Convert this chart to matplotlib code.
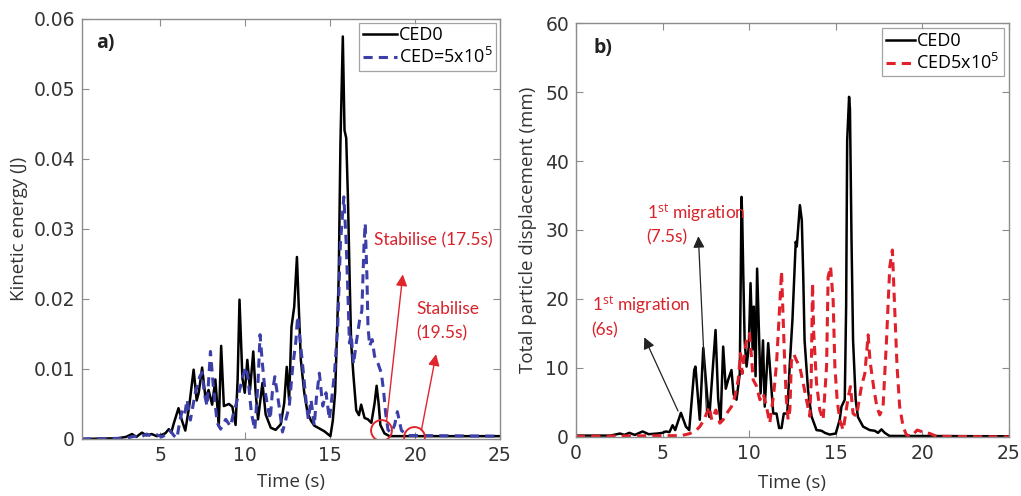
import matplotlib
matplotlib.use("Agg")
import matplotlib.pyplot as plt

plt.rcParams['font.family'] = ['Open Sans', 'DejaVu Sans']
plt.rcParams['mathtext.fontset'] = 'custom'
plt.rcParams['mathtext.rm'] = 'Open Sans'
plt.rcParams['mathtext.it'] = 'Open Sans'

# (a) kinetic energy, CED0
t_ke_ced0 = [0.4, 2.5, 3.0, 3.34, 3.6, 3.93, 4.2, 4.5, 4.8, 5.1, 5.3, 5.51, 5.65, 5.8,
             6.08, 6.3, 6.48, 6.7, 6.97, 7.15, 7.27, 7.47, 7.67, 7.85, 8.06, 8.25, 8.45,
             8.59, 8.75, 9.05, 9.25, 9.44, 9.56, 9.67, 9.84, 9.98, 10.13, 10.29, 10.48,
             10.62, 10.76, 11.02, 11.21, 11.51, 11.8, 12.1, 12.3, 12.45, 12.59, 12.73,
             12.89, 13.05, 13.15, 13.28, 13.48, 13.68, 13.88, 14.07, 14.37, 14.66, 15.02,
             15.16, 15.3, 15.39, 15.51, 15.61, 15.75, 15.85, 15.95, 16.05, 16.15, 16.24,
             16.38, 16.54, 16.7, 16.83, 17.03, 17.23, 17.43, 17.62, 17.74, 17.86, 17.96,
             18.2, 18.5, 25.0]
ke_ced0 = [0.0, 0.0001, 0.0003, 0.0007, 0.0003, 0.0009, 0.0005, 0.0007, 0.0004, 0.0006,
           0.0008, 0.0014, 0.0009, 0.0022, 0.0044, 0.0025, 0.0012, 0.0045, 0.0099, 0.0055,
           0.0066, 0.0102, 0.0058, 0.0070, 0.0049, 0.0085, 0.0018, 0.0133, 0.0047, 0.0050,
           0.0046, 0.0020, 0.0085, 0.0199, 0.0087, 0.0066, 0.0113, 0.0070, 0.0125, 0.0066,
           0.0028, 0.0080, 0.0035, 0.0016, 0.0013, 0.0021, 0.0051, 0.0103, 0.0056, 0.0160,
           0.0189, 0.0260, 0.0194, 0.0113, 0.0066, 0.0037, 0.0026, 0.0019, 0.0015, 0.0011,
           0.0004, 0.0026, 0.0067, 0.0137, 0.0232, 0.0422, 0.0575, 0.0441, 0.0430, 0.0346,
           0.0232, 0.0137, 0.0089, 0.0041, 0.0034, 0.0049, 0.0030, 0.0028, 0.0023, 0.0051,
           0.0076, 0.0050, 0.0020, 0.0008, 0.0004, 0.0004]

# (a) kinetic energy, CED = 5x10^5
t_ke_ced5 = [0.4, 3.0, 3.5, 3.8, 4.2, 4.5, 4.8, 5.1, 5.4, 5.6, 5.8, 5.99, 6.15, 6.3, 6.45,
             6.58, 6.78, 7.07, 7.33, 7.47, 7.6, 7.76, 7.96, 8.16, 8.36, 8.56, 8.86, 9.14,
             9.3, 9.44, 9.64, 9.84, 10.03, 10.17, 10.37, 10.57, 10.76, 10.88, 11.02, 11.16,
             11.32, 11.48, 11.6, 11.75, 12.0, 12.2, 12.4, 12.6, 12.8, 12.99, 13.09, 13.2,
             13.38, 13.58, 13.72, 13.88, 14.07, 14.2, 14.37, 14.57, 14.76, 14.96, 15.16,
             15.26, 15.45, 15.61, 15.81, 15.95, 16.05, 16.14, 16.24, 16.38, 16.54, 16.74,
             16.87, 17.0, 17.07, 17.17, 17.23, 17.33, 17.48, 17.62, 17.82, 18.02, 18.16,
             18.27, 18.41, 18.6, 18.8, 18.96, 19.2, 19.6, 25.0]
ke_ced5 = [0.0, 0.0001, 0.0004, 0.0002, 0.0007, 0.0004, 0.0006, 0.0003, 0.0007, 0.0012,
           0.0005, 0.0001, 0.0025, 0.0041, 0.0035, 0.0056, 0.0027, 0.0066, 0.0089, 0.0095,
           0.0065, 0.0047, 0.0125, 0.0066, 0.0023, 0.0014, 0.0028, 0.0018, 0.0035, 0.0047,
           0.0066, 0.0087, 0.0103, 0.0087, 0.0037, 0.0013, 0.0081, 0.0149, 0.0107, 0.0071,
           0.0047, 0.0028, 0.0066, 0.0089, 0.0047, 0.0010, 0.0028, 0.0047, 0.0103, 0.0140,
           0.0175, 0.0150, 0.0107, 0.0056, 0.0028, 0.0056, 0.0019, 0.0060, 0.0094, 0.0047,
           0.0066, 0.0028, 0.0071, 0.0094, 0.0160, 0.0280, 0.0346, 0.0280, 0.0208, 0.0137,
           0.0150, 0.0107, 0.0137, 0.0170, 0.0183, 0.0279, 0.0308, 0.0232, 0.0161, 0.0133,
           0.0142, 0.0118, 0.0108, 0.0094, 0.0066, 0.0037, 0.0013, 0.0009, 0.0020, 0.0039,
           0.0012, 0.0005, 0.0004]

# (b) total particle displacement, CED0
t_disp_ced0 = [0.0, 2.0, 2.54, 2.8, 3.08, 3.4, 3.85, 4.2, 4.71, 5.0, 5.19, 5.4, 5.58, 5.73,
               6.06, 6.35, 6.54, 6.83, 6.9, 7.15, 7.35, 7.58, 7.7, 8.06, 8.21, 8.35, 8.5,
               8.65, 8.79, 8.98, 9.1, 9.27, 9.46, 9.56, 9.6, 9.66, 9.74, 9.85, 9.98, 10.08,
               10.2, 10.27, 10.37, 10.46, 10.58, 10.66, 10.8, 10.9, 11.1, 11.24, 11.39,
               11.58, 11.73, 11.87, 12.0, 12.2, 12.35, 12.5, 12.69, 12.75, 12.93, 13.04,
               13.12, 13.2, 13.4, 13.6, 13.89, 14.18, 14.37, 14.65, 15.0, 15.23, 15.33,
               15.52, 15.6, 15.66, 15.77, 15.82, 15.91, 16.0, 16.15, 16.28,
               16.58, 16.96, 17.25, 17.44, 17.64, 17.83, 18.1, 25.0]
disp_ced0 = [0.2, 0.2, 0.5, 0.3, 0.6, 0.3, 0.8, 0.4, 0.5, 0.6, 0.8, 0.7, 1.7, 1.0, 3.5,
             1.5, 1.0, 9.7, 10.2, 2.5, 12.9, 5.8, 2.9, 15.5, 5.6, 2.2, 13.1, 7.0, 8.3, 9.7,
             6.2, 5.4, 9.2, 34.8, 31.9, 23.7, 14.0, 10.2, 13.1, 22.3, 12.7, 18.9, 8.8, 24.4,
             14.0, 6.3, 14.0, 4.4, 13.6, 8.7, 3.4, 3.4, 1.3, 1.3, 3.4, 3.4, 10.7, 17.0, 28.3,
             27.6, 33.6, 31.4, 23.7, 14.0, 6.8, 3.0, 1.0, 0.9, 0.6, 0.35, 0.5, 2.5, 4.4, 5.4,
             19.0, 43.0, 49.3, 47.5, 28.6, 14.0, 5.4, 2.9, 1.5, 1.0, 0.9, 0.6,
             1.1, 0.6, 0.15, 0.1]

# (b) total particle displacement, CED5x10^5
t_disp_ced5 = [0.0, 6.1, 6.58, 6.96, 7.15, 7.4, 7.69, 7.84, 8.08, 8.31, 8.5, 8.7, 8.98,
               9.18, 9.37, 9.5, 9.6, 9.75, 9.85, 10.02, 10.12, 10.23, 10.42, 10.62, 10.81,
               11.0, 11.19, 11.42, 11.58, 11.73, 11.87, 11.96, 12.06, 12.15, 12.25, 12.35,
               12.44, 12.58, 12.73, 12.92, 13.12, 13.31, 13.5, 13.58, 13.66, 13.73, 13.89,
               14.08, 14.27, 14.47, 14.56, 14.7, 14.85, 14.95, 15.08, 15.23, 15.43, 15.72,
               15.85, 16.0, 16.2, 16.48, 16.68, 16.87, 16.98, 17.2, 17.38, 17.54, 17.73,
               17.93, 18.12, 18.27, 18.4, 18.54, 18.69, 18.89, 19.08, 19.37, 19.7, 20.05,
               20.43, 20.82, 25.0]
disp_ced5 = [0.1, 0.2, 0.5, 1.0, 1.5, 2.5, 4.4, 2.5, 3.9, 2.0, 2.5, 3.4, 4.4, 5.9, 8.3,
             12.1, 9.2, 12.6, 14.0, 15.0, 12.1, 8.3, 7.4, 5.4, 6.3, 4.4, 2.0, 6.3, 10.6,
             17.4, 24.0, 17.4, 10.2, 5.4, 2.5, 3.9, 11.0, 12.0, 11.1, 10.2, 7.8, 5.4, 3.0,
             8.0, 22.3, 15.0, 7.8, 3.9, 2.5, 10.2, 23.2, 24.7, 19.8, 10.2, 5.4, 2.5, 1.0,
             5.8, 7.3, 3.4, 3.0, 7.3, 9.2, 14.8, 11.0, 7.0, 4.3, 3.2, 4.3, 14.0, 24.7, 27.1,
             18.8, 10.2, 4.4, 1.5, 0.3, 0.1, 1.0, 0.7, 0.5, 0.1, 0.0]

ANNOT_RED = '#d8232b'
AX_GRAY = '#8c8c8c'
TXT_GRAY = '#333333'
NOTE_FONT = ['Lato', 'DejaVu Sans']


def style_axes(ax):
    for s in ax.spines.values():
        s.set_color(AX_GRAY)
        s.set_linewidth(1.0)
    ax.tick_params(direction='in', length=5, width=0.8, color=AX_GRAY,
                   top=True, right=True, labelsize=13.5, labelcolor=TXT_GRAY, pad=5)
    for lab in ax.get_xticklabels() + ax.get_yticklabels():
        lab.set_fontfamily('DejaVu Sans')


fig = plt.figure(figsize=(10.21, 4.96), dpi=100)

# ---- panel a) ----
ax1 = fig.add_axes([0.0803, 0.115, 0.4094, 0.8467])
ax1.plot(t_ke_ced0, ke_ced0, color='black', lw=1.8, label='CED0')
ax1.plot(t_ke_ced5, ke_ced5, color='#3c3fa8', lw=2.2, ls=(0, (3, 2)), label='CED=5x10$^{5}$')
ax1.set_xlim(0.4, 25)
ax1.set_ylim(0, 0.06)
ax1.set_xticks([5, 10, 15, 20, 25])
ax1.set_yticks([0, 0.01, 0.02, 0.03, 0.04, 0.05, 0.06])
ax1.set_yticklabels(['0', '0.01', '0.02', '0.03', '0.04', '0.05', '0.06'])
style_axes(ax1)
ax1.set_xlabel('Time (s)', fontsize=13.5, color=TXT_GRAY, labelpad=6)
ax1.set_ylabel('Kinetic energy (J)', fontsize=13.5, color=TXT_GRAY, labelpad=4)
ax1.text(0.035, 0.943, 'a)', transform=ax1.transAxes, fontsize=14, fontweight='bold',
         va='center', ha='left', color='#222222')
leg1 = ax1.legend(loc='upper right', fontsize=13, frameon=True, fancybox=False,
                  edgecolor=AX_GRAY, handlelength=1.9, handletextpad=0.1,
                  borderpad=0.2, labelspacing=0.15, borderaxespad=0.2)
leg1.get_frame().set_linewidth(0.9)

# stabilisation markers
ax1.plot([18.0], [0.0013], marker='o', ms=15, mfc='none', mec='#e0262d', mew=1.4)
ax1.plot([19.93], [0.0003], marker='o', ms=15, mfc='none', mec='#e0262d', mew=1.4)
arrow_red = dict(arrowstyle='-|>', color='#e0262d', lw=1.0, mutation_scale=17)
ax1.annotate('', xy=(19.3, 0.0239), xytext=(18.31, 0.0022), arrowprops=arrow_red)
ax1.annotate('', xy=(21.27, 0.0125), xytext=(20.34, 0.0008), arrowprops=arrow_red)
ax1.text(17.6, 0.0284, 'Stabilise (17.5s)', color=ANNOT_RED, fontsize=12.5,
         va='center', family=NOTE_FONT)
ax1.text(20.09, 0.0186, 'Stabilise', color=ANNOT_RED, fontsize=12.5, va='center',
         family=NOTE_FONT)
ax1.text(20.09, 0.0151, '(19.5s)', color=ANNOT_RED, fontsize=12.5, va='center',
         family=NOTE_FONT)

# ---- panel b) ----
ax2 = fig.add_axes([0.5641, 0.119, 0.4241, 0.8346])
ax2.plot(t_disp_ced0, disp_ced0, color='black', lw=1.8, label='CED0')
ax2.plot(t_disp_ced5, disp_ced5, color='#e0202a', lw=2.2, ls=(0, (3, 2)), label='CED5x10$^{5}$')
ax2.set_xlim(0, 25)
ax2.set_ylim(0, 60)
ax2.set_xticks([0, 5, 10, 15, 20, 25])
ax2.set_yticks([0, 10, 20, 30, 40, 50, 60])
style_axes(ax2)
ax2.set_xlabel('Time (s)', fontsize=13.5, color=TXT_GRAY, labelpad=8)
ax2.set_ylabel('Total particle displacement (mm)', fontsize=13.5, color=TXT_GRAY, labelpad=6)
ax2.text(0.04, 0.94, 'b)', transform=ax2.transAxes, fontsize=14, fontweight='bold',
         va='center', ha='left', color='#222222')
leg2 = ax2.legend(loc='upper right', fontsize=13, frameon=True, fancybox=False,
                  edgecolor=AX_GRAY, handlelength=1.6, handletextpad=0.1,
                  borderpad=0.2, labelspacing=0.15, borderaxespad=0.3)
leg2.get_frame().set_linewidth(0.9)

arrow_black = dict(arrowstyle='-|>', color='#222222', lw=0.9, mutation_scale=17)
ax2.annotate('', xy=(7.06, 29.5), xytext=(7.54, 3.4), arrowprops=arrow_black)
ax2.annotate('', xy=(3.88, 14.8), xytext=(5.96, 3.4), arrowprops=arrow_black)
ax2.text(4.08, 32.4, '1$^{\\mathrm{st}}$ migration', color=ANNOT_RED, fontsize=12.5,
         va='center', family=NOTE_FONT)
ax2.text(4.08, 28.9, '(7.5s)', color=ANNOT_RED, fontsize=12.5, va='center', family=NOTE_FONT)
ax2.text(0.9, 19.0, '1$^{\\mathrm{st}}$ migration', color=ANNOT_RED, fontsize=12.5,
         va='center', family=NOTE_FONT)
ax2.text(0.9, 15.5, '(6s)', color=ANNOT_RED, fontsize=12.5, va='center', family=NOTE_FONT)

fig.savefig('out.png', dpi=100)
